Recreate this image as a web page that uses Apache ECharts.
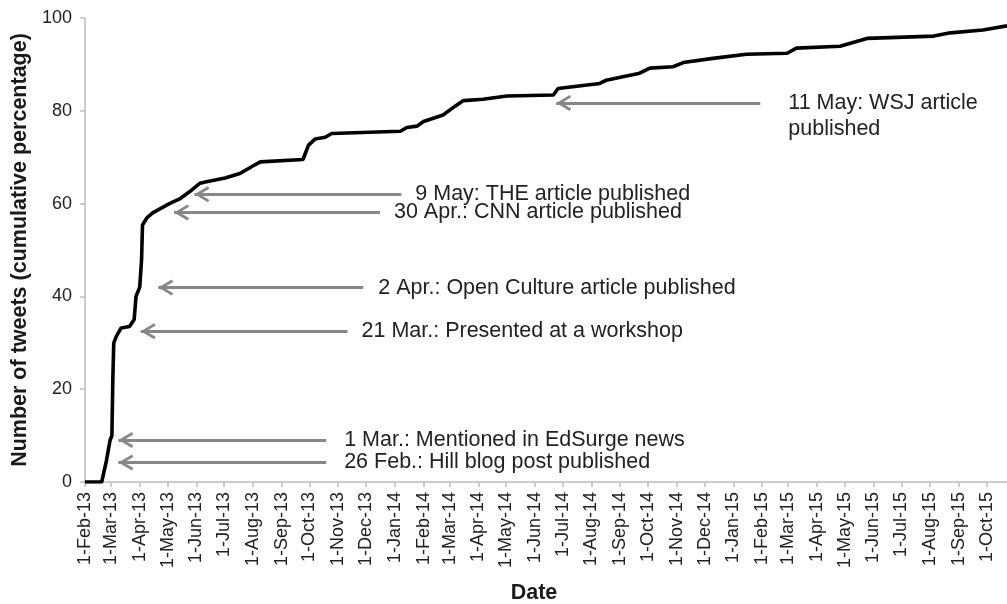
<!DOCTYPE html>
<html>
<head>
<meta charset="utf-8">
<script src="https://cdn.jsdelivr.net/npm/echarts@6/dist/echarts.min.js"></script>
<style>
html,body{margin:0;padding:0;background:#fff;}
#chart{width:1007px;height:604px;}
</style>
</head>
<body>
<div id="chart"></div>
<script>
// ---- data ----
const dates = ['2013-02-01','2013-02-19','2013-02-24','2013-02-28','2013-03-02','2013-03-03','2013-03-04','2013-03-07','2013-03-12','2013-03-21','2013-03-26','2013-03-28','2013-04-01','2013-04-03','2013-04-04','2013-04-09','2013-04-15','2013-05-03','2013-05-14','2013-05-25','2013-06-05','2013-06-12','2013-07-02','2013-07-18','2013-07-31','2013-08-09','2013-09-24','2013-09-30','2013-10-07','2013-10-18','2013-10-25','2014-01-07','2014-01-14','2014-01-25','2014-02-01','2014-02-22','2014-03-07','2014-03-16','2014-04-06','2014-05-02','2014-06-21','2014-06-26','2014-08-10','2014-08-17','2014-09-22','2014-10-03','2014-10-28','2014-11-08','2014-12-10','2015-01-15','2015-02-28','2015-03-10','2015-04-26','2015-05-25','2015-08-05','2015-08-23','2015-09-27','2015-10-23'];
const values = [0,0,4.5,9,10,22,30,31.5,33.2,33.5,35,40,42,48,55.4,57,58,60,61,62.6,64.4,64.7,65.5,66.5,68,69,69.5,72.6,73.9,74.3,75.1,75.6,76.4,76.7,77.7,79.1,81,82.2,82.5,83.2,83.4,84.8,85.9,86.6,88.1,89.2,89.5,90.4,91.3,92.2,92.4,93.5,93.9,95.6,96.1,96.8,97.4,98.3];

const tickDates = ['2013-02-01','2013-03-01','2013-04-01','2013-05-01','2013-06-01','2013-07-01','2013-08-01','2013-09-01','2013-10-01','2013-11-01','2013-12-01','2014-01-01','2014-02-01','2014-03-01','2014-04-01','2014-05-01','2014-06-01','2014-07-01','2014-08-01','2014-09-01','2014-10-01','2014-11-01','2014-12-01','2015-01-01','2015-02-01','2015-03-01','2015-04-01','2015-05-01','2015-06-01','2015-07-01','2015-08-01','2015-09-01','2015-10-01'];
const monthNames = ['Jan','Feb','Mar','Apr','May','Jun','Jul','Aug','Sep','Oct','Nov','Dec'];

// annotations: arrow tip date, arrow tail date, level, text
const annTip   = ['2014-06-24','2013-05-30','2013-05-08','2013-04-21','2013-04-02','2013-03-09','2013-03-09'];
const annTail  = ['2015-01-30','2014-01-08','2013-12-16','2013-11-28','2013-11-11','2013-10-19','2013-10-19'];
const annLevel = [81.7, 62.0, 58.1, 41.9, 32.5, 9.05, 4.2];
const annText  = ['\n11 May: WSJ article\npublished','9 May: THE article published','30 Apr.: CNN article published','2 Apr.: Open Culture article published','21 Mar.: Presented at a workshop','1 Mar.: Mentioned in EdSurge news','26 Feb.: Hill blog post published'];
const annGap   = [28, 14, 14, 15, 14, 18, 18];

// ---- chart ----
function ts(s){ const p = s.split('-'); return new Date(+p[0], +p[1]-1, +p[2]).getTime(); }
const lineData = dates.map((d,i)=>[ts(d), values[i]]);
const tickTs = tickDates.map(ts);

// open chevron, tip at symbol centre (bbox padded with invisible specks)
const chevron = 'path://M-7,-15 L-6.99,-15 L-7,-14.99 Z M23,15 L22.99,15 L23,14.99 Z ' +
                'M0,13.5 L8,0 L16,13.5 L13.59,14.93 L8,5.49 L2.41,14.93 Z';

const mlData = annTip.map((t,i)=>[
  {coord:[ts(t), annLevel[i]]},
  {coord:[ts(annTail[i]), annLevel[i]],
   label:{show:true, position:'end', distance:annGap[i], formatter:annText[i],
          color:'#222', fontSize:21.5, fontFamily:'Liberation Sans', lineHeight:26}}
]);

const chart = echarts.init(document.getElementById('chart'), null, {renderer:'canvas'});
chart.setOption({
  animation:false,
  backgroundColor:'#fff',
  grid:{left:85, right:0, top:18, bottom:122, containLabel:false, outerBoundsMode:'none'},
  xAxis:{
    type:'value',
    min: ts('2013-02-01'),
    max: ts('2015-10-23'),
    scale:true,
    name:'Date',
    nameLocation:'middle',
    nameGap:100,
    nameTextStyle:{fontFamily:'Liberation Sans', fontWeight:'bold', fontSize:21.5, color:'#1a1a1a', padding:[0,24,0,0]},
    axisLine:{show:true, lineStyle:{color:'#bdbdbd', width:1.5}},
    axisTick:{show:true, length:5, lineStyle:{color:'#bdbdbd', width:1.5}, customValues: tickTs},
    splitLine:{show:false},
    axisLabel:{
      customValues: tickTs,
      rotate:90, margin:10, fontSize:18, fontFamily:'Liberation Sans', color:'#222',
      hideOverlap:false, showMinLabel:true, showMaxLabel:true,
      formatter:function(v){ const d=new Date(v); return d.getDate()+'-'+monthNames[d.getMonth()]+'-'+String(d.getFullYear()).slice(2); }
    }
  },
  yAxis:{
    type:'value',
    min:0, max:100, interval:20,
    name:'Number of tweets (cumulative percentage)',
    nameLocation:'middle',
    nameGap:47,
    nameTextStyle:{fontFamily:'Liberation Sans', fontWeight:'bold', fontSize:21.5, color:'#1a1a1a'},
    axisLine:{show:true, lineStyle:{color:'#bdbdbd', width:1.5}},
    axisTick:{show:true, length:5, lineStyle:{color:'#bdbdbd', width:1.5}},
    splitLine:{show:false},
    axisLabel:{margin:13, fontSize:18, fontFamily:'Liberation Sans', color:'#222'}
  },
  series:[{
    type:'line',
    data:lineData,
    showSymbol:false,
    symbol:'none',
    lineStyle:{color:'#000', width:3.6},
    z:3,
    markLine:{
      silent:true,
      animation:false,
      symbol:[chevron,'none'],
      symbolSize:30,
      lineStyle:{color:'#878787', width:3, type:'solid'},
      itemStyle:{color:'#878787'},
      emphasis:{disabled:true},
      data: mlData
    }
  }]
});
</script>
</body>
</html>
